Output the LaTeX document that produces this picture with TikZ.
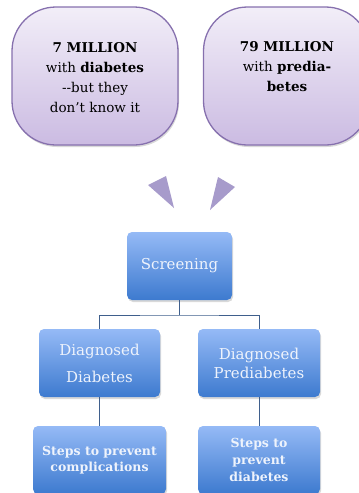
\documentclass[tikz,border=0pt]{standalone}
\usepackage{fontspec}
\setmainfont{DejaVu Serif}
\usetikzlibrary{shadows}
\definecolor{lilacTop}{HTML}{F2EEF8}
\definecolor{lilacBot}{HTML}{CBBBE2}
\definecolor{lilacLine}{HTML}{8670AE}
\definecolor{wedge}{HTML}{A79BCB}
\definecolor{blueTop}{HTML}{95BAF6}
\definecolor{blueBot}{HTML}{3D7ACF}
\definecolor{blueText}{HTML}{EEF3FC}
\definecolor{linkBlue}{HTML}{3F5F8C}
\tikzset{
  bubble/.style={draw=lilacLine, line width=1.3pt, rounded corners=44pt,
    top color=lilacTop, bottom color=lilacBot,
    drop shadow={shadow xshift=1pt, shadow yshift=-2pt, opacity=0.3},
    minimum width=166pt, minimum height=138pt},
  bubbletext/.style={align=center, inner sep=0pt, font=\fontsize{13.5}{20}\selectfont},
  bluebox/.style={rounded corners=5pt, top color=blueTop, bottom color=blueBot,
    drop shadow={shadow xshift=1pt, shadow yshift=-2pt, opacity=0.3},
    text=blueText, align=center, minimum height=68pt, inner sep=0pt},
  link/.style={draw=linkBlue, line width=0.8pt}
}
\begin{document}
\begin{tikzpicture}[x=1pt,y=-1pt]
\useasboundingbox (0,0) rectangle (359,493);
\node[bubble] (undiag) at (95,76) {};
\node[bubble] (prediab) at (286.5,76) {};
\node[bubbletext] (undiagtxt) at (95,78) {\textbf{7 MILLION}\\with \textbf{diabetes}\\-{}-but they\\don't know it};
\node[bubbletext] (prediabtxt) at (287,67) {\textbf{79 MILLION}\\with \textbf{predia-}\\\textbf{betes}};
\fill[wedge] (148,185) -- (166,176) -- (174,208) -- cycle;
\fill[wedge] (218,177) -- (235,187) -- (210,210) -- cycle;
\node[bluebox, minimum width=105pt, font=\fontsize{15}{18}\selectfont] (screen) at (179.5,266) {Screening};
\node[bluebox, minimum width=121pt, font=\fontsize{15}{18}\selectfont] (dxdiab) at (99.5,363) {Diagnosed\\[9pt]Diabetes};
\node[bluebox, minimum width=122pt, font=\fontsize{15}{18}\selectfont] (dxpre) at (259,363) {Diagnosed\\[1pt]Prediabetes};
\node[bluebox, minimum width=133pt, font=\bfseries\fontsize{12.5}{16}\selectfont] (stepsc) at (99.5,460) {Steps to prevent\\complications};
\node[bluebox, minimum width=122pt, font=\bfseries\fontsize{12.5}{17}\selectfont] (stepsp) at (259,460) {Steps to\\prevent\\diabetes};
\coordinate (branch) at (179.5,315);
\draw[link] (screen.south) -- (branch);
\draw[link] (dxdiab.north) |- (branch) -| (dxpre.north);
\draw[link] (dxdiab.south) -- (stepsc.north);
\draw[link] (dxpre.south) -- (stepsp.north);
\end{tikzpicture}
\end{document}
